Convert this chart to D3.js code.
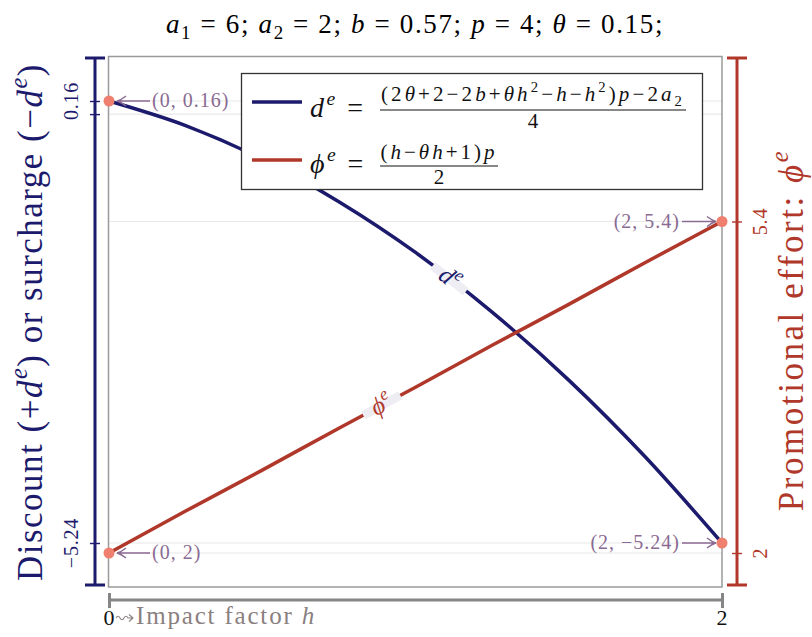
<!DOCTYPE html>
<html>
<head>
<meta charset="utf-8">
<script src="https://cdn.jsdelivr.net/npm/d3@7"></script>
<style>
  body { margin: 0; background: #fff; }
  svg { display: block; }
  text { font-family: "Liberation Serif", "Times New Roman", "DejaVu Serif", serif; }
</style>
</head>
<body>
<svg id="chart" width="812" height="637"></svg>
<script>
// values
const hValues = [0, 0.25, 0.5, 0.75, 1, 1.25, 1.5, 1.75, 2];
const discountValues = [0.16, -0.14, -0.55, -1.07, -1.69, -2.42, -3.25, -4.19, -5.24];
const effortValues = [2, 2.43, 2.85, 3.28, 3.7, 4.13, 4.55, 4.98, 5.4];

const leftTicks = [0.16, 0, -5.24];
const leftTickLabels = ["0.16", "", "\u22125.24"];
const rightTicks = [5.4, 2];
const rightTickLabels = ["5.4", "2"];
const xTicks = [0, 2];
const xTickLabels = ["0", "2"];

const endpoints = [
  { h: 0, v: 0.16, series: "d", label: "(0, 0.16)" },
  { h: 2, v: -5.24, series: "d", label: "(2, \u22125.24)" },
  { h: 0, v: 2, series: "phi", label: "(0, 2)" },
  { h: 2, v: 5.4, series: "phi", label: "(2, 5.4)" }
];

const SERIF = '"Liberation Serif", "Times New Roman", "DejaVu Serif", serif';
const navy = "#1c1a6c";
const red = "#b0382a";
const dotColor = "#ef8070";
const annoColor = "#8a6b92";
const grayAxis = "#858585";

const svg = d3.select("#chart").attr("font-family", SERIF);

const plot = { left: 108.5, top: 56.5, right: 722, bottom: 587 };
const axisTop = 58, axisBottom = 585;

const x = d3.scaleLinear().domain([0, 2]).range([109, 722]);
const yL = d3.scaleLinear().domain([-5.24, 0.16]).range([543, 101]);
const yR = d3.scaleLinear().domain([2, 5.4]).range([553, 221.5]);

// tspan helper for little bits of math; a target width is reached with letter-spacing
function addMath(textSel, parts, size, target) {
  textSel.attr("font-size", size).attr("font-family", SERIF);
  let shift = 0;
  parts.forEach(p => {
    const ts = textSel.append("tspan").text(p.t);
    if (p.i) ts.attr("font-style", "italic");
    let goal = 0;
    if (p.s === "sup") { goal = -size * 0.42; ts.attr("font-size", size * 0.7); }
    if (p.s === "sub") { goal = size * 0.22; ts.attr("font-size", size * 0.7); }
    if (goal !== shift) ts.attr("dy", goal - shift);
    shift = goal;
  });
  if (target) {
    const w = textSel.node().getComputedTextLength();
    const n = parts.reduce((s, p) => s + p.t.length, 0);
    if (w > 0 && n > 1) textSel.attr("letter-spacing", Math.max(0, (target - w) / n));
  }
  return textSel;
}

// gridlines
const grid = svg.append("g");
leftTicks.forEach(v => grid.append("line")
  .attr("x1", plot.left).attr("x2", plot.right)
  .attr("y1", yL(v)).attr("y2", yL(v))
  .attr("stroke", "#e8e8e8").attr("stroke-width", 1.2));
rightTicks.forEach(v => grid.append("line")
  .attr("x1", plot.left).attr("x2", plot.right)
  .attr("y1", yR(v)).attr("y2", yR(v))
  .attr("stroke", "#e8e8e8").attr("stroke-width", 1.2));

// plot frame
svg.append("rect")
  .attr("x", plot.left).attr("y", plot.top)
  .attr("width", plot.right - plot.left).attr("height", plot.bottom - plot.top)
  .attr("fill", "none").attr("stroke", "#9a9a9a").attr("stroke-width", 1.5);

// curves
const lineD = d3.line().x((d, i) => x(hValues[i])).y(d => yL(d)).curve(d3.curveMonotoneX);
const lineP = d3.line().x((d, i) => x(hValues[i])).y(d => yR(d)).curve(d3.curveMonotoneX);

svg.append("path").datum(discountValues).attr("d", lineD)
  .attr("fill", "none").attr("stroke", navy).attr("stroke-width", 3.5);
svg.append("path").datum(effortValues).attr("d", lineP)
  .attr("fill", "none").attr("stroke", red).attr("stroke-width", 3.5);

// inline curve labels
function curveLabel(values, yScale, h, parts, color) {
  const f = d3.scaleLinear().domain(hValues).range(values);
  const px = x(h), py = yScale(f(h));
  const ang = Math.atan2(yScale(f(h + 0.02)) - yScale(f(h - 0.02)), x(h + 0.02) - x(h - 0.02)) * 180 / Math.PI;
  const g = svg.append("g").attr("transform", `translate(${px},${py}) rotate(${ang})`);
  g.append("rect").attr("x", -21).attr("y", -4.5).attr("width", 42).attr("height", 9)
    .attr("fill", "#eeedf3");
  const t = g.append("text").attr("text-anchor", "middle").attr("y", 7).attr("fill", color);
  addMath(t, parts, 25);
}
curveLabel(discountValues, yL, 1.11, [{ t: "d", i: true }, { t: "e", i: true, s: "sup" }], navy);
curveLabel(effortValues, yR, 0.89, [{ t: "\u03d5", i: true }, { t: "e", i: true, s: "sup" }], red);

// endpoint annotations
const ann = svg.append("g");
endpoints.forEach(e => {
  const px = x(e.h), py = e.series === "d" ? yL(e.v) : yR(e.v);
  const left = e.h === 0;
  const tip = left ? px + 8 : px - 6;
  const tail = left ? px + 41 : px - 40;
  const dir = left ? 1 : -1;
  ann.append("path")
    .attr("d", `M${tail},${py}L${tip},${py}` +
      `M${tip + dir * 9},${py - 5}Q${tip + dir * 4},${py - 1} ${tip},${py}Q${tip + dir * 4},${py + 1} ${tip + dir * 9},${py + 5}`)
    .attr("fill", "none").attr("stroke", annoColor).attr("stroke-width", 1.4);
  ann.append("text")
    .attr("x", left ? px + 43 : px - 42).attr("y", py + 6)
    .attr("text-anchor", left ? "start" : "end")
    .attr("font-size", 20).attr("letter-spacing", 1)
    .attr("fill", annoColor).text(e.label);
});
ann.selectAll("circle").data(endpoints).join("circle")
  .attr("cx", d => x(d.h))
  .attr("cy", d => d.series === "d" ? yL(d.v) : yR(d.v))
  .attr("r", 5.5).attr("fill", dotColor);

// left axis
const lx = 95;
const leftAxis = svg.append("g").attr("transform", `translate(${lx},0)`)
  .call(d3.axisLeft(yL).tickValues(leftTicks).tickFormat(() => ""))
  .attr("font-family", SERIF).attr("font-size", null);
leftAxis.select(".domain").remove();
leftAxis.selectAll(".tick line").attr("x1", -5).attr("x2", 5).attr("stroke", navy).attr("stroke-width", 1.4);
leftAxis.append("line").attr("y1", axisTop).attr("y2", axisBottom).attr("stroke", navy).attr("stroke-width", 3);
[axisTop, axisBottom].forEach(yy => leftAxis.append("line")
  .attr("x1", -10).attr("x2", 10).attr("y1", yy).attr("y2", yy).attr("stroke", navy).attr("stroke-width", 3));
leftTicks.forEach((v, i) => leftAxis.append("text")
  .attr("transform", `translate(-17,${yL(v)}) rotate(-90)`)
  .attr("text-anchor", "middle").attr("font-size", 20).attr("letter-spacing", 0.8).attr("fill", navy)
  .text(leftTickLabels[i]));

// right axis
const rx = 737;
const rightAxis = svg.append("g").attr("transform", `translate(${rx},0)`)
  .call(d3.axisRight(yR).tickValues(rightTicks).tickFormat(() => ""))
  .attr("font-family", SERIF).attr("font-size", null);
rightAxis.select(".domain").remove();
rightAxis.selectAll(".tick line").attr("x1", -5).attr("x2", 5).attr("stroke", red).attr("stroke-width", 1.4);
rightAxis.append("line").attr("y1", axisTop).attr("y2", axisBottom).attr("stroke", red).attr("stroke-width", 3);
[axisTop, axisBottom].forEach(yy => rightAxis.append("line")
  .attr("x1", -10).attr("x2", 10).attr("y1", yy).attr("y2", yy).attr("stroke", red).attr("stroke-width", 3));
rightTicks.forEach((v, i) => rightAxis.append("text")
  .attr("transform", `translate(30,${yR(v)}) rotate(-90)`)
  .attr("text-anchor", "middle").attr("font-size", 20).attr("letter-spacing", 0.8).attr("fill", red)
  .text(rightTickLabels[i]));

// bottom axis
const by = 600;
const bottomAxis = svg.append("g").attr("transform", `translate(0,${by})`)
  .call(d3.axisBottom(x).tickValues(xTicks).tickFormat(() => ""))
  .attr("font-family", SERIF).attr("font-size", null);
bottomAxis.select(".domain").remove();
bottomAxis.selectAll(".tick line").attr("y1", -7).attr("y2", 8).attr("stroke", grayAxis).attr("stroke-width", 3);
bottomAxis.append("line").attr("x1", x(0) + 1).attr("x2", x(2)).attr("stroke", grayAxis).attr("stroke-width", 3);
xTicks.forEach((v, i) => bottomAxis.append("text")
  .attr("x", x(v)).attr("y", 25).attr("text-anchor", "middle")
  .attr("font-size", 22).attr("fill", "#111").text(xTickLabels[i]));
// squiggly arrow between the 0 and the axis name
const sq = x(0) + 7, sy = 18;
bottomAxis.append("path")
  .attr("d", `M${sq},${sy}q2,-3.5 4,0t4,0t4,0L${sq + 17},${sy}M${sq + 13},${sy - 3.5}L${sq + 17},${sy}L${sq + 13},${sy + 3.5}`)
  .attr("fill", "none").attr("stroke", "#8a8080").attr("stroke-width", 1.1);
addMath(bottomAxis.append("text").attr("x", x(0) + 27).attr("y", 24).attr("text-anchor", "start")
  .attr("fill", "#8a8080"), [{ t: "Impact factor " }, { t: "h", i: true }], 25, 180);

// axis titles
addMath(svg.append("text").attr("transform", "translate(42,322) rotate(-90)")
  .attr("text-anchor", "middle").attr("fill", navy),
  [{ t: "Discount (+" }, { t: "d", i: true }, { t: "e", i: true, s: "sup" },
  { t: ") or surcharge (\u2212" }, { t: "d", i: true }, { t: "e", i: true, s: "sup" }, { t: ")" }], 35, 518);

addMath(svg.append("text").attr("transform", "translate(803,330) rotate(-90)")
  .attr("text-anchor", "middle").attr("fill", red),
  [{ t: "Promotional effort:  " }, { t: "\u03d5", i: true }, { t: "e", i: true, s: "sup" }], 35, 365);

// title
addMath(svg.append("text").attr("x", 415).attr("y", 33)
  .attr("text-anchor", "middle").attr("fill", "#000"), [
  { t: "a", i: true }, { t: "1", s: "sub" }, { t: " = 6; " },
  { t: "a", i: true }, { t: "2", s: "sub" }, { t: " = 2; " },
  { t: "b", i: true }, { t: " = 0.57; " },
  { t: "p", i: true }, { t: " = 4; " },
  { t: "\u03b8", i: true }, { t: " = 0.15;" }
], 27, 498);

// legend
const lg = svg.append("g");
lg.append("rect").attr("x", 241.5).attr("y", 73.5).attr("width", 461).attr("height", 116)
  .attr("fill", "#fff").attr("stroke", "#333").attr("stroke-width", 1.3);
lg.append("line").attr("x1", 252).attr("x2", 302).attr("y1", 102).attr("y2", 102)
  .attr("stroke", navy).attr("stroke-width", 3.5);
lg.append("line").attr("x1", 252).attr("x2", 302).attr("y1", 160).attr("y2", 160)
  .attr("stroke", red).attr("stroke-width", 3.5);

addMath(lg.append("text").attr("x", 310).attr("y", 117).attr("fill", "#111"),
  [{ t: "d", i: true }, { t: "e", i: true, s: "sup" }, { t: " = " }], 28, 58);
addMath(lg.append("text").attr("x", 533).attr("y", 101).attr("text-anchor", "middle").attr("fill", "#111"), [
  { t: "(2" }, { t: "\u03b8", i: true }, { t: "+2\u22122" }, { t: "b", i: true }, { t: "+" },
  { t: "\u03b8", i: true }, { t: "h", i: true }, { t: "2", s: "sup" }, { t: "\u2212" },
  { t: "h", i: true }, { t: "\u2212" }, { t: "h", i: true }, { t: "2", s: "sup" }, { t: ")" },
  { t: "p", i: true }, { t: "\u22122" }, { t: "a", i: true }, { t: "2", s: "sub" }
], 21, 304);
lg.append("line").attr("x1", 380).attr("x2", 686).attr("y1", 110).attr("y2", 110)
  .attr("stroke", "#111").attr("stroke-width", 1);
lg.append("text").attr("x", 533).attr("y", 128).attr("text-anchor", "middle")
  .attr("font-size", 21).attr("fill", "#111").text("4");

addMath(lg.append("text").attr("x", 310).attr("y", 173).attr("fill", "#111"),
  [{ t: "\u03d5", i: true }, { t: "e", i: true, s: "sup" }, { t: " = " }], 28, 58);
addMath(lg.append("text").attr("x", 439).attr("y", 159).attr("text-anchor", "middle").attr("fill", "#111"), [
  { t: "(" }, { t: "h", i: true }, { t: "\u2212" }, { t: "\u03b8", i: true }, { t: "h", i: true },
  { t: "+1)" }, { t: "p", i: true }
], 21, 117);
lg.append("line").attr("x1", 380).attr("x2", 498).attr("y1", 166).attr("y2", 166)
  .attr("stroke", "#111").attr("stroke-width", 1);
lg.append("text").attr("x", 439).attr("y", 184).attr("text-anchor", "middle")
  .attr("font-size", 21).attr("fill", "#111").text("2");
</script>
</body>
</html>
